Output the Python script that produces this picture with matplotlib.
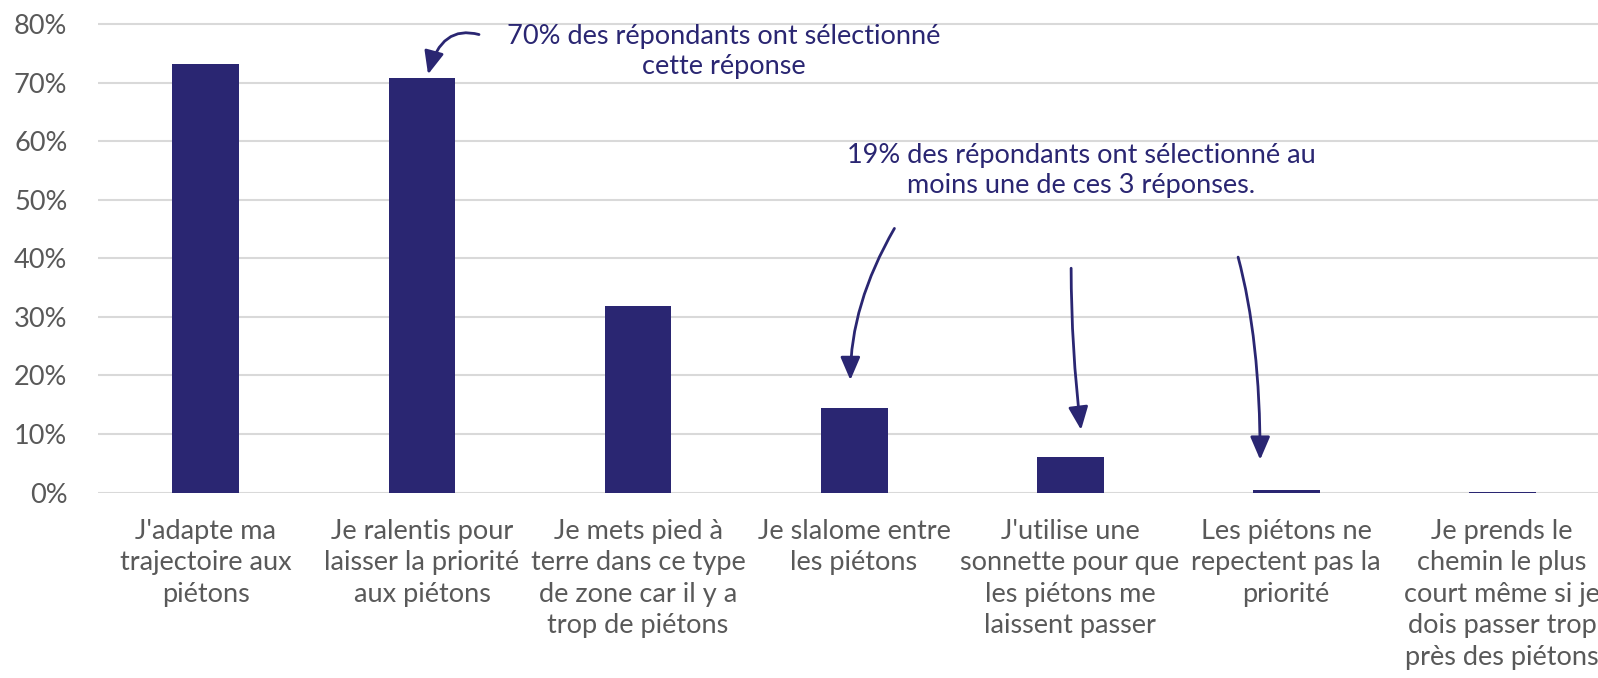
import matplotlib
matplotlib.use("Agg")
import matplotlib.pyplot as plt
import numpy as np

categories = [
    "J'adapte ma\ntrajectoire aux\npiétons",
    "Je ralentis pour\nlaisser la priorité\naux piétons",
    "Je mets pied à\nterre dans ce type\nde zone car il y a\ntrop de piétons",
    "Je slalome entre\nles piétons",
    "J'utilise une\nsonnette pour que\nles piétons me\nlaissent passer",
    "Les piétons ne\nrepectent pas la\npriorité",
    "Je prends le\nchemin le plus\ncourt même si je\ndois passer trop\nprès des piétons",
]
values = [73.1, 70.8, 31.9, 14.5, 6.1, 0.4, 0.15]
yticks = [0, 10, 20, 30, 40, 50, 60, 70, 80]

note_70 = "70% des répondants ont sélectionné\ncette réponse"
note_19 = "19% des répondants ont sélectionné au\nmoins une de ces 3 réponses."

navy = "#2a2672"
grey = "#595959"

plt.rcParams['font.family'] = ['Lato', 'DejaVu Sans']

fig = plt.figure(figsize=(15.98, 6.78), dpi=100)
ax = fig.add_axes([0.0613, 0.2735, 0.9387, 0.6911 * 81 / 80])

x = np.arange(len(categories))
ax.bar(x, values, width=0.31, color=navy, zorder=3)

ax.set_xlim(-0.5, 6.444)
ax.set_ylim(0, 81)
ax.set_yticks(yticks)
ax.set_yticklabels([f"{t}%" for t in yticks])
ax.set_xticks(x)
ax.set_xticklabels(categories, linespacing=1.32, va="top")
ax.tick_params(axis="y", length=0, pad=22, labelsize=19.5, labelcolor=grey)
ax.tick_params(axis="x", length=0, pad=19, labelsize=19.5, labelcolor=grey)
ax.grid(axis="y", color="#d9d9d9", linewidth=1.5, zorder=0)
for s in ax.spines.values():
    s.set_visible(False)

arrow = dict(arrowstyle="-|>,head_length=0.7,head_width=0.3", color=navy,
             lw=2, mutation_scale=20, shrinkA=0, shrinkB=0)

ax.text(2.398, 75.3, note_70, ha="center", va="center", fontsize=19.5,
        color=navy, linespacing=1.28)
ax.annotate("", xy=(1.028, 71.4), xytext=(1.264, 78.2),
            arrowprops=dict(arrow, connectionstyle="angle3,angleA=165,angleB=75"))

ax.text(4.051, 55.0, note_19, ha="center", va="center", fontsize=19.5,
        color=navy, linespacing=1.28)
ax.annotate("", xy=(2.983, 19.2), xytext=(3.187, 45.1),
            arrowprops=dict(arrow, connectionstyle="angle3,angleA=60,angleB=90"))
ax.annotate("", xy=(4.051, 10.7), xytext=(4.005, 38.3),
            arrowprops=dict(arrow, connectionstyle="arc3,rad=0.03"))
ax.annotate("", xy=(4.880, 5.6), xytext=(4.778, 40.2),
            arrowprops=dict(arrow, connectionstyle="angle3,angleA=105,angleB=90"))

fig.savefig("out.png", dpi=100)
